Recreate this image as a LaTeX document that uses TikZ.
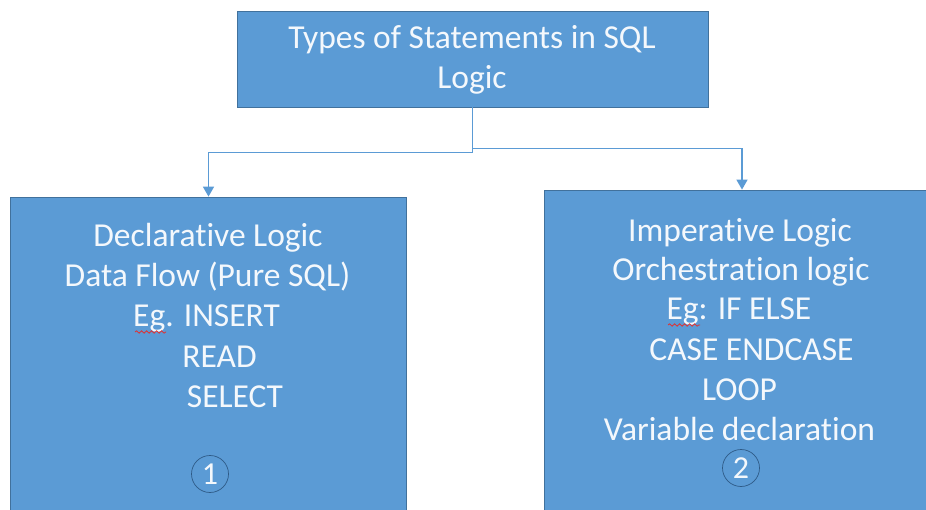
\documentclass[tikz,border=0pt]{standalone}
\usepackage{fontspec}
\setmainfont{Carlito}[Ligatures={NoCommon}]
\usetikzlibrary{arrows.meta,decorations.pathmorphing}
\definecolor{boxfill}{HTML}{5B9BD5}
\definecolor{boxline}{HTML}{41719C}
\definecolor{txt}{HTML}{F4F8FC}
\definecolor{circline}{HTML}{2E5A86}
\definecolor{squig}{HTML}{E03030}
\newcommand{\nolig}{\kern0pt }
\tikzset{
  box/.style={draw=boxline,fill=boxfill,line width=0.8pt,inner sep=0pt},
  lbl/.style={text=txt,inner sep=0pt,anchor=base,font=\fontsize{33.5}{40}\selectfont},
  conn/.style={draw=boxfill,line width=1.6pt,-{Triangle[length=10pt,width=11pt]}},
  numcirc/.style={circle,draw=circline,line width=0.7pt,minimum size=37pt,inner sep=0pt,text=txt,font=\fontsize{32}{38}\selectfont},
  squiggle/.style={draw=squig,line width=0.8pt,decorate,decoration={snake,amplitude=1.2pt,segment length=5pt}}
}
\begin{document}
\begin{tikzpicture}[x=1pt,y=-1pt]
\useasboundingbox (0,0) rectangle (926,510);
\clip (0,0) rectangle (926,510);
\fill[white] (0,0) rectangle (926,510);
% boxes
\node[box,minimum width=471pt,minimum height=96pt] (top) at (472.5,59) {};
\node[box,minimum width=396pt,minimum height=330pt] (left) at (208.5,362) {};
\node[box,minimum width=396pt,minimum height=340pt] (right) at (742,360) {};
% connectors
\draw[conn] (top.south) -- ++(0,45) -| (left.north);
\draw[conn] (top.south) -- ++(0,41) -| (right.north);
% top text
\node[lbl] (t1) at (472,49) {Types of Statements in SQL};
\node[lbl] (t2) at (472,89) {Logic};
% left text
\node[lbl] (l1) at (208,247) {Declarat\nolig ive Logic};
\node[lbl] (l2) at (207.5,287) {Data Flow (Pure SQL)};
\node[lbl] (l3) at (206.5,327) {Eg. INSERT};
\node[lbl] (l4) at (219.5,367) {READ};
\node[lbl] (l5) at (235,407) {SELECT};
\node[numcirc] (c1) at (210,474) {1};
% right text
\node[lbl] (r1) at (740,242) {Imperat\nolig ive Logic};
\node[lbl] (r2) at (741,281) {Orchestrat\nolig ion logic};
\node[lbl] (r3) at (739,320) {Eg: IF ELSE};
\node[lbl] (r4) at (751.5,360) {CASE ENDCASE};
\node[lbl] (r5) at (739.5,400) {LOOP};
\node[lbl] (r6) at (739.5,440) {Variable declarat\nolig ion};
\node[numcirc] (c2) at (741,468) {2};
% spell-check squiggles
\coordinate (sq1a) at (135,332);
\coordinate (sq1b) at (166,332);
\coordinate (sq2a) at (668,325);
\coordinate (sq2b) at (700,325);
\draw[squiggle] (sq1a) -- (sq1b);
\draw[squiggle] (sq2a) -- (sq2b);
\end{tikzpicture}
\end{document}
